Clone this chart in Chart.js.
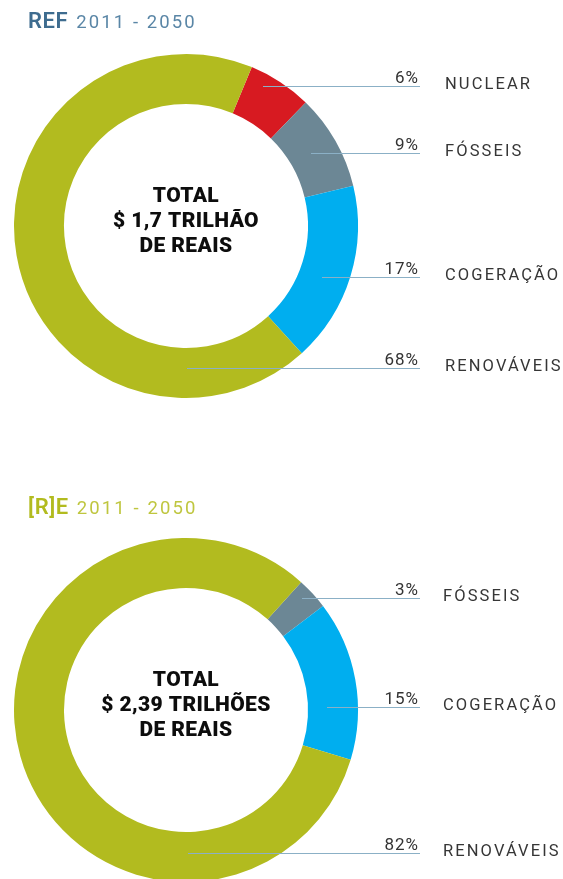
<!DOCTYPE html>
<html>
<head>
<meta charset="utf-8">
<script src="https://cdn.jsdelivr.net/npm/chart.js@4/dist/chart.umd.min.js"></script>
<style>
  html, body { margin: 0; padding: 0; background: #fff; width: 563px; height: 879px; overflow: hidden; }
  canvas { position: absolute; left: 0; }
  #refChart { top: 0; }
  #reChart { top: 480px; }
</style>
</head>
<body>
<canvas id="refChart" width="563" height="480"></canvas>
<canvas id="reChart" width="563" height="420"></canvas>
<script>
// Investment shares 2011 - 2050, in percent of the total
const refCategories = ['NUCLEAR', 'FÓSSEIS', 'COGERAÇÃO', 'RENOVÁVEIS'];
const refShares = [6, 9, 17, 68];
const refTotal = ['TOTAL', '$ 1,7 TRILHÃO', 'DE REAIS'];

const reCategories = ['FÓSSEIS', 'COGERAÇÃO', 'RENOVÁVEIS'];
const reShares = [3, 15, 82];
const reTotal = ['TOTAL', '$ 2,39 TRILHÕES', 'DE REAIS'];

const sourceColors = {
  'NUCLEAR': '#d71a21',
  'FÓSSEIS': '#6c8795',
  'COGERAÇÃO': '#00aeef',
  'RENOVÁVEIS': '#b2bb1f'
};

// Draws the scenario title, the centre total and the leader-line callouts
const calloutPlugin = {
  id: 'callouts',
  afterDatasetsDraw(chart, args, opts) {
    const ctx = chart.ctx;
    const meta = chart.getDatasetMeta(0);
    const cx = meta.data[0].x;
    const cy = meta.data[0].y;
    const labels = chart.data.labels;
    const values = chart.data.datasets[0].data;
    ctx.save();

    // title
    ctx.textBaseline = 'alphabetic';
    ctx.textAlign = 'left';
    ctx.letterSpacing = '0.6px';
    ctx.font = '600 22px Roboto';
    ctx.fillStyle = opts.title.color;
    ctx.fillText(opts.title.bold, 28, opts.title.y);
    let w = ctx.measureText(opts.title.bold).width;
    ctx.letterSpacing = '2.1px';
    ctx.font = '400 18.5px Roboto';
    ctx.fillStyle = opts.title.color2;
    ctx.fillText(opts.title.rest, 28 + w + 8, opts.title.y);

    // centre total
    ctx.letterSpacing = '0.4px';
    ctx.font = '900 21px Roboto';
    ctx.fillStyle = '#0d0d0d';
    ctx.textAlign = 'center';
    opts.center.forEach((line, i) => {
      ctx.fillText(line, cx, cy - 24 + i * 25);
    });

    // callouts
    opts.rows.forEach((row, i) => {
      const y = Math.round(cy + row.dy) + 0.5;
      ctx.strokeStyle = '#8bb0c6';
      ctx.lineWidth = 1;
      ctx.beginPath();
      ctx.moveTo(cx + row.dx, y);
      ctx.lineTo(opts.lineEnd, y);
      ctx.stroke();

      ctx.textAlign = 'right';
      ctx.letterSpacing = '1px';
      ctx.font = '400 17px Roboto';
      ctx.fillStyle = '#333';
      ctx.fillText(values[i] + '%', opts.lineEnd - 1, y - 4);

      ctx.textAlign = 'left';
      ctx.letterSpacing = '2.1px';
      ctx.font = '400 16.5px Roboto';
      ctx.fillStyle = '#363636';
      ctx.fillText(labels[i], opts.labelX, y + 2);
    });
    ctx.restore();
  }
};

function makeDonut(canvasId, categories, shares, rotation, padding, pluginOpts) {
  return new Chart(document.getElementById(canvasId), {
    type: 'doughnut',
    data: {
      labels: categories,
      datasets: [{
        data: shares,
        backgroundColor: categories.map(c => sourceColors[c]),
        borderWidth: 0,
        hoverOffset: 0
      }]
    },
    options: {
      responsive: false,
      animation: false,
      devicePixelRatio: 1,
      rotation: rotation,
      radius: 172,
      cutout: 122,
      layout: { padding: padding },
      events: [],
      plugins: {
        legend: { display: false },
        tooltip: { enabled: false },
        callouts: pluginOpts
      }
    },
    plugins: [calloutPlugin]
  });
}

makeDonut('refChart', refCategories, refShares, 22.5,
  { left: 14, right: 205, top: 54, bottom: 82 },
  {
    title: { bold: 'REF', rest: '2011 - 2050', y: 28, color: '#3e6c8f', color2: '#5a86a6' },
    center: refTotal,
    lineEnd: 420,
    labelX: 445,
    rows: [
      { dx: 77, dy: -140 },
      { dx: 125, dy: -73 },
      { dx: 136, dy: 51 },
      { dx: 1, dy: 142 }
    ]
  });

makeDonut('reChart', reCategories, reShares, 42,
  { left: 14, right: 205, top: 58, bottom: 18 },
  {
    title: { bold: '[R]E', rest: '2011 - 2050', y: 34, color: '#b2bb1f', color2: '#bfc63f' },
    center: reTotal,
    lineEnd: 420,
    labelX: 443,
    rows: [
      { dx: 116, dy: -112 },
      { dx: 141, dy: -3 },
      { dx: 2, dy: 143 }
    ]
  });
</script>
</body>
</html>
